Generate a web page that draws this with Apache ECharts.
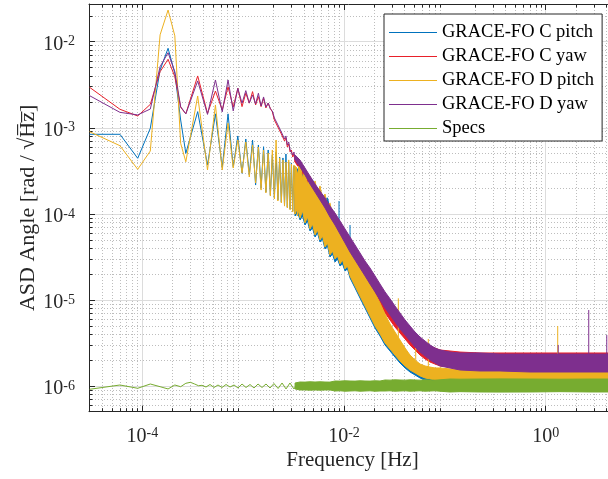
<!DOCTYPE html>
<html>
<head>
<meta charset="utf-8">
<script src="https://cdn.jsdelivr.net/npm/echarts@6/dist/echarts.min.js"></script>
<style>
html,body{margin:0;padding:0;background:#fff;}
#chart{width:608px;height:479px;}
</style>
</head>
<body>
<div id="chart"></div>
<script>
// ---------------- data ----------------
const seriesNames = ['GRACE-FO C pitch', 'GRACE-FO C yaw', 'GRACE-FO D pitch', 'GRACE-FO D yaw', 'Specs'];
const seriesColors = ['#0072BD', '#E8202A', '#EDB120', '#7E2F8E', '#77AC30'];

// tick values
const xMajor = [1e-4, 1e-2, 1];
const xMinor = [4e-5, 5e-5, 6e-5, 7e-5, 8e-5, 9e-5,
  2e-4, 3e-4, 4e-4, 5e-4, 6e-4, 7e-4, 8e-4, 9e-4,
  2e-3, 3e-3, 4e-3, 5e-3, 6e-3, 7e-3, 8e-3, 9e-3,
  2e-2, 3e-2, 4e-2, 5e-2, 6e-2, 7e-2, 8e-2, 9e-2,
  0.2, 0.3, 0.4, 0.5, 0.6, 0.7, 0.8, 0.9, 2, 3, 4];
const yMajor = [1e-6, 1e-5, 1e-4, 1e-3, 1e-2];
const yMinor = [6e-7, 7e-7, 8e-7, 9e-7,
  2e-6, 3e-6, 4e-6, 5e-6, 6e-6, 7e-6, 8e-6, 9e-6,
  2e-5, 3e-5, 4e-5, 5e-5, 6e-5, 7e-5, 8e-5, 9e-5,
  2e-4, 3e-4, 4e-4, 5e-4, 6e-4, 7e-4, 8e-4, 9e-4,
  2e-3, 3e-3, 4e-3, 5e-3, 6e-3, 7e-3, 8e-3, 9e-3, 2e-2];

// low-frequency part (Hz)
const fLow = [3.0e-5, 6.0e-5, 9.0e-5, 1.2e-4, 1.5e-4, 1.8e-4, 2.1e-4, 2.4e-4, 2.7e-4,
  3.54e-4, 4.43e-4, 5.31e-4, 6.2e-4, 7.08e-4, 7.97e-4, 8.85e-4, 9.74e-4, 1.062e-3, 1.15e-3,
  1.239e-3, 1.328e-3, 1.416e-3, 1.505e-3, 1.593e-3, 1.68e-3, 1.77e-3, 1.86e-3, 1.947e-3, 2.04e-3,
  2.12e-3, 2.21e-3, 2.30e-3, 2.39e-3, 2.48e-3, 2.57e-3, 2.655e-3, 2.74e-3, 2.83e-3, 2.92e-3,
  3.01e-3, 3.10e-3, 3.19e-3, 3.27e-3, 3.36e-3, 3.45e-3, 3.54e-3];
const cPitchLow = [8.4e-4, 8.4e-4, 4.42e-4, 9.86e-4, 4.69e-3, 8.38e-3, 4.3e-3, 1.23e-3, 5.05e-4,
  1.54e-3, 3.69e-4, 1.45e-3, 3.45e-4, 1.45e-3, 3.53e-4, 8.03e-4, 2.96e-4, 7.41e-4, 2.83e-4,
  7.21e-4, 2.16e-4, 6.31e-4, 2.0e-4, 6.03e-4, 1.79e-4, 5.52e-4, 1.66e-4, 4.83e-4, 1.53e-4,
  5.23e-4, 1.45e-4, 4.57e-4, 1.37e-4, 4.46e-4, 1.27e-4, 4.96e-4, 1.2e-4, 4.0e-4, 1.14e-4,
  3.9e-4, 1.08e-4, 3.6e-4, 9.96e-5, 3.41e-4, 9.44e-5, 3.41e-4];
const cYawLow = [2.95e-3, 1.64e-3, 1.37e-3, 1.87e-3, 4.48e-3, 6.25e-3, 3.92e-3, 1.73e-3, 1.45e-3,
  4.0e-3, 1.47e-3, 2.67e-3, 1.61e-3, 2.98e-3, 1.74e-3, 2.87e-3, 1.76e-3, 2.52e-3, 1.93e-3,
  2.63e-3, 1.84e-3, 2.30e-3, 1.76e-3, 2.2e-3, 1.70e-3, 1.93e-3, 1.68e-3, 1.53e-3, 1.23e-3,
  1.27e-3, 1.02e-3, 1.05e-3, 8.47e-4, 8.93e-4, 7.02e-4, 7.61e-4, 5.98e-4, 6.48e-4, 5.23e-4,
  5.52e-4, 4.57e-4, 4.96e-4, 4.0e-4, 4.34e-4, 3.6e-4, 3.9e-4];
const dPitchLow = [9.0e-4, 6.19e-4, 3.29e-4, 5.37e-4, 1.2e-2, 2.33e-2, 1.17e-2, 6.6e-4, 4.03e-4,
  2.34e-3, 3.23e-4, 1.84e-3, 3.23e-4, 1.13e-3, 3.41e-4, 7.21e-4, 2.98e-4, 6.84e-4, 2.68e-4,
  6.31e-4, 2.28e-4, 5.98e-4, 1.89e-4, 5.52e-4, 1.75e-4, 5.09e-4, 1.61e-4, 5.52e-4, 1.49e-4,
  7.21e-4, 1.41e-4, 4.46e-4, 1.34e-4, 4.23e-4, 1.23e-4, 4.0e-4, 1.17e-4, 4.23e-4, 1.11e-4,
  3.8e-4, 1.05e-4, 3.69e-4, 9.96e-5, 3.5e-4, 9.44e-5, 3.6e-4];
const dYawLow = [2.36e-3, 1.51e-3, 1.41e-3, 1.65e-3, 5.13e-3, 7.45e-3, 4.48e-3, 1.76e-3, 1.45e-3,
  3.5e-3, 1.43e-3, 3.59e-3, 1.53e-3, 3.59e-3, 1.57e-3, 2.87e-3, 1.93e-3, 2.7e-3, 1.94e-3,
  2.4e-3, 1.89e-3, 2.52e-3, 1.79e-3, 2.28e-3, 1.74e-3, 1.94e-3, 1.65e-3, 1.57e-3, 1.3e-3,
  1.33e-3, 1.08e-3, 1.11e-3, 8.93e-4, 9.42e-4, 7.41e-4, 8.03e-4, 6.31e-4, 6.84e-4, 5.52e-4,
  5.82e-4, 4.83e-4, 5.23e-4, 4.22e-4, 4.57e-4, 3.8e-4, 4.11e-4];
const fSpecLow = [3.0e-5, 6.0e-5, 9.0e-5, 1.2e-4, 1.5e-4, 1.8e-4, 2.1e-4, 2.4e-4, 2.7e-4, 3.0e-4, 3.3e-4, 3.6e-4, 3.9e-4,
  4.28e-4, 4.69e-4, 5.14e-4, 5.63e-4, 6.17e-4, 6.76e-4, 7.41e-4, 8.12e-4, 8.89e-4, 9.74e-4, 1.067e-3, 1.169e-3,
  1.281e-3, 1.404e-3, 1.538e-3, 1.685e-3, 1.846e-3, 2.02e-3, 2.22e-3, 2.43e-3, 2.66e-3, 2.91e-3, 3.19e-3, 3.50e-3];
const specLow = [9.16e-7, 1.027e-6, 9.41e-7, 1.055e-6, 9.82e-7, 9.24e-7, 1.027e-6, 9.82e-7, 1.075e-6, 1.104e-6, 1.055e-6, 1.008e-6, 1.018e-6,
  9.74e-7, 1.041e-6, 9.61e-7, 1.027e-6, 9.61e-7, 1.041e-6, 9.74e-7, 1.027e-6, 9.48e-7, 1.055e-6, 9.61e-7, 1.041e-6,
  9.48e-7, 1.055e-6, 9.61e-7, 1.055e-6, 9.48e-7, 1.069e-6, 9.36e-7, 1.084e-6, 9.24e-7, 1.084e-6, 9.24e-7, 1.084e-6];

// dense (noise band) part: upper / lower envelopes
const fBand = [3.27e-3, 3.66e-3, 4.10e-3, 4.60e-3, 5.16e-3, 5.78e-3, 6.48e-3, 7.26e-3, 8.14e-3, 9.13e-3,
  1.023e-2, 1.147e-2, 1.285e-2, 1.441e-2, 1.615e-2, 1.81e-2, 2.03e-2, 2.275e-2, 2.55e-2, 2.86e-2,
  3.20e-2, 3.59e-2, 4.03e-2, 4.51e-2, 5.06e-2, 5.67e-2, 6.36e-2, 7.12e-2, 7.99e-2, 8.95e-2,
  0.1125, 0.1413, 0.223, 0.352, 0.699, 1.386, 2.75, 5.0];
const fPitchBand = [3.27e-3, 3.462e-3, 3.666e-3, 3.88e-3, 4.10e-3, 4.345e-3, 4.60e-3, 4.87e-3, 5.16e-3, 5.46e-3,
  5.78e-3, 6.12e-3, 6.48e-3, 6.86e-3, 7.26e-3, 7.69e-3, 8.14e-3, 8.62e-3, 9.13e-3, 9.66e-3,
  1.023e-2, 1.083e-2, 1.147e-2,
  1.285e-2, 1.441e-2, 1.615e-2, 1.81e-2, 2.03e-2, 2.275e-2, 2.55e-2, 2.86e-2,
  3.20e-2, 3.59e-2, 4.03e-2, 4.51e-2, 5.06e-2, 5.67e-2, 6.36e-2, 7.12e-2, 7.99e-2, 8.95e-2,
  0.1125, 0.1413, 0.223, 0.352, 0.699, 1.386, 2.75, 5.0];
const cPitchHi = [3.41e-4, 3.32e-4, 3.23e-4, 3.06e-4, 2.83e-4, 2.61e-4, 2.41e-4, 2.47e-4, 2.05e-4, 1.94e-4,
  1.79e-4, 1.66e-4, 1.49e-4, 1.53e-4, 1.14e-4, 9.96e-5, 8.71e-5, 7.62e-5, 6.85e-5, 6.16e-5,
  5.53e-5, 4.97e-5, 4.47e-5,
  3.42e-5, 2.62e-5, 1.95e-5, 1.41e-5, 1.08e-5, 8.28e-6, 6.17e-6, 4.72e-6,
  3.81e-6, 3.08e-6, 2.55e-6, 2.12e-6, 1.85e-6, 1.71e-6, 1.62e-6, 1.58e-6, 1.535e-6, 1.535e-6,
  1.535e-6, 1.535e-6, 1.535e-6, 1.535e-6, 1.535e-6, 1.535e-6, 1.535e-6, 1.535e-6];
const cPitchLo = [9.44e-5, 1.05e-4, 8.48e-5, 9.44e-5, 7.42e-5, 8.26e-5, 6.32e-5, 6.85e-5, 5.38e-5, 5.99e-5,
  4.71e-5, 5.10e-5, 3.91e-5, 4.23e-5, 3.15e-5, 3.42e-5, 2.76e-5, 2.99e-5, 2.48e-5, 2.62e-5,
  2.17e-5, 2.29e-5, 1.80e-5,
  1.38e-5, 1.05e-5, 8.06e-6, 6.17e-6, 4.72e-6, 3.81e-6, 3.00e-6, 2.55e-6,
  2.17e-6, 1.85e-6, 1.62e-6, 1.455e-6, 1.343e-6, 1.24e-6, 1.174e-6, 1.143e-6, 1.113e-6, 1.113e-6,
  1.113e-6, 1.113e-6, 1.113e-6, 1.113e-6, 1.113e-6, 1.113e-6, 1.113e-6, 1.113e-6];
const dPitchHi = [3.60e-4, 2.90e-4, 3.90e-4, 2.61e-4, 3.15e-4, 2.22e-4, 2.75e-4, 2.0e-4, 2.41e-4, 1.75e-4,
  2.11e-4, 1.49e-4, 1.70e-4, 1.20e-4, 1.34e-4, 9.44e-5, 1.02e-4, 7.42e-5, 8.04e-5, 5.99e-5,
  6.32e-5, 4.97e-5, 4.97e-5,
  3.80e-5, 2.91e-5, 2.17e-5, 1.57e-5, 1.20e-5, 9.21e-6, 6.86e-6, 5.25e-6,
  4.24e-6, 3.42e-6, 2.76e-6, 2.29e-6, 2.01e-6, 1.80e-6, 1.71e-6, 1.66e-6, 1.62e-6, 1.62e-6,
  1.58e-6, 1.58e-6, 1.535e-6, 1.535e-6, 1.535e-6, 1.535e-6, 1.535e-6, 1.535e-6];
const dPitchLo = [9.96e-5, 1.17e-4, 8.95e-5, 1.08e-4, 7.83e-5, 9.19e-5, 6.67e-5, 7.62e-5, 5.68e-5, 6.49e-5,
  4.97e-5, 5.53e-5, 4.12e-5, 4.59e-5, 3.33e-5, 3.70e-5, 2.99e-5, 3.24e-5, 2.62e-5, 2.91e-5,
  2.29e-5, 2.48e-5, 1.90e-5,
  1.45e-5, 1.11e-5, 8.50e-6, 6.51e-6, 4.98e-6, 4.02e-6, 3.16e-6, 2.69e-6,
  2.29e-6, 1.95e-6, 1.71e-6, 1.535e-6, 1.42e-6, 1.31e-6, 1.24e-6, 1.21e-6, 1.17e-6, 1.17e-6,
  1.14e-6, 1.14e-6, 1.14e-6, 1.11e-6, 1.11e-6, 1.11e-6, 1.11e-6, 1.11e-6];
const cYawHi = [4.58e-4, 3.90e-4, 3.15e-4, 2.54e-4, 2.05e-4, 1.70e-4, 1.41e-4, 1.14e-4, 9.19e-5, 7.42e-5,
  5.99e-5, 4.84e-5, 3.91e-5, 3.15e-5, 2.55e-5, 2.11e-5, 1.70e-5, 1.38e-5, 1.11e-5, 9.21e-6,
  7.64e-6, 6.33e-6, 5.40e-6, 4.60e-6, 4.02e-6, 3.52e-6, 3.16e-6, 2.92e-6, 2.76e-6, 2.62e-6,
  2.55e-6, 2.48e-6, 2.42e-6, 2.42e-6, 2.42e-6, 2.42e-6, 2.42e-6, 2.42e-6];
const cYawLo = [4.0e-4, 3.32e-4, 2.61e-4, 2.05e-4, 1.66e-4, 1.34e-4, 1.05e-4, 8.26e-5, 6.49e-5, 5.10e-5,
  4.01e-5, 3.15e-5, 2.55e-5, 2.06e-5, 1.66e-5, 1.34e-5, 1.08e-5, 8.73e-6, 7.05e-6, 5.85e-6,
  4.85e-6, 4.13e-6, 3.52e-6, 3.00e-6, 2.62e-6, 2.29e-6, 2.06e-6, 1.90e-6, 1.80e-6, 1.71e-6,
  1.66e-6, 1.62e-6, 1.58e-6, 1.58e-6, 1.58e-6, 1.58e-6, 1.58e-6, 1.58e-6];
const dYawHi = [4.83e-4, 4.22e-4, 3.41e-4, 2.75e-4, 2.22e-4, 1.84e-4, 1.53e-4, 1.23e-4, 1.02e-4, 8.26e-5,
  6.67e-5, 5.38e-5, 4.35e-5, 3.51e-5, 2.83e-5, 2.35e-5, 1.90e-5, 1.53e-5, 1.24e-5, 1.03e-5,
  8.50e-6, 7.05e-6, 5.85e-6, 4.98e-6, 4.24e-6, 3.71e-6, 3.33e-6, 3.00e-6, 2.76e-6, 2.62e-6,
  2.48e-6, 2.42e-6, 2.42e-6, 2.35e-6, 2.35e-6, 2.35e-6, 2.35e-6, 2.35e-6];
const dYawLo = [4.22e-4, 3.50e-4, 2.83e-4, 2.22e-4, 1.79e-4, 1.45e-4, 1.17e-4, 9.19e-5, 7.42e-5, 5.83e-5,
  4.59e-5, 3.60e-5, 2.91e-5, 2.35e-5, 1.90e-5, 1.53e-5, 1.24e-5, 9.98e-6, 8.06e-6, 6.68e-6,
  5.54e-6, 4.60e-6, 3.91e-6, 3.33e-6, 2.84e-6, 2.48e-6, 2.23e-6, 2.01e-6, 1.85e-6, 1.71e-6,
  1.62e-6, 1.535e-6, 1.495e-6, 1.495e-6, 1.455e-6, 1.455e-6, 1.455e-6, 1.455e-6];
const specHi = [1.084e-6, 1.113e-6, 1.11e-6, 1.12e-6, 1.113e-6, 1.12e-6, 1.113e-6, 1.11e-6, 1.143e-6, 1.14e-6,
  1.15e-6, 1.143e-6, 1.14e-6, 1.15e-6, 1.143e-6, 1.14e-6, 1.15e-6, 1.143e-6, 1.174e-6, 1.17e-6,
  1.18e-6, 1.174e-6, 1.17e-6, 1.18e-6, 1.174e-6, 1.17e-6, 1.18e-6, 1.174e-6, 1.17e-6, 1.18e-6,
  1.206e-6, 1.2e-6, 1.206e-6, 1.21e-6, 1.206e-6, 1.2e-6, 1.206e-6, 1.206e-6];
const specLo = [9.24e-7, 8.99e-7, 9.0e-7, 8.95e-7, 8.99e-7, 8.95e-7, 8.99e-7, 9.0e-7, 8.75e-7, 8.8e-7,
  8.7e-7, 8.75e-7, 8.8e-7, 8.7e-7, 8.75e-7, 8.8e-7, 8.7e-7, 8.75e-7, 8.75e-7, 8.8e-7,
  8.7e-7, 8.75e-7, 8.8e-7, 8.7e-7, 8.75e-7, 8.8e-7, 8.7e-7, 8.75e-7, 8.8e-7, 8.7e-7,
  8.52e-7, 8.6e-7, 8.52e-7, 8.5e-7, 8.52e-7, 8.6e-7, 8.52e-7, 8.52e-7];

// isolated spectral lines (frequency, base, top)
const cPitchSpikeF = [8.92e-3, 1.147e-2];
const cPitchSpikeBase = [6.85e-5, 4.47e-5];
const cPitchSpikeTop = [1.41e-4, 7.42e-5];
const dPitchSpikeF = [3.455e-2, 5.14e-2, 6.85e-2, 1.315];
const dPitchSpikeBase = [3.71e-6, 2.01e-6, 1.66e-6, 1.535e-6];
const dPitchSpikeTop = [1.045e-5, 2.86e-6, 3.52e-6, 4.98e-6];
const dYawSpikeF = [1.33, 2.67, 4.03];
const dYawSpikeBase = [2.35e-6, 2.35e-6, 2.35e-6];
const dYawSpikeTop = [3.0e-6, 7.64e-6, 3.91e-6];

// ---------------- chart ----------------
const FONT = '"Liberation Serif", "Times New Roman", serif';
const AX = '#262626';
const X_MIN = 2.96e-5, X_MAX = 4.145;
const Y_MIN = 5.03e-7, Y_MAX = 2.74e-2;

function supLabel(v) {
  const e = Math.round(Math.log10(v));
  return '{b|10}{s|' + (e < 0 ? '-' : '') + Math.abs(e) + '}';
}
const rich = {
  b: {fontSize: 20, fontFamily: FONT, color: AX, lineHeight: 20},
  s: {fontSize: 14, fontFamily: FONT, color: AX, lineHeight: 14, verticalAlign: 'top'}
};

function pairs(fs, vs) { return fs.map((f, i) => [f, vs[i]]); }

function lineSeries(name, fs, vs, color, z) {
  return {
    type: 'line', name: name, data: pairs(fs, vs), xAxisIndex: 0, yAxisIndex: 0,
    showSymbol: false, symbol: 'none', z: z, silent: true,
    lineStyle: {color: color, width: 1}, itemStyle: {color: color}
  };
}

function bandSeries(id, fs, hi, lo, color, z) {
  return {
    type: 'custom', name: id, xAxisIndex: 0, yAxisIndex: 0, z: z, silent: true,
    data: fs.map((f, i) => [f, lo[i], hi[i]]),
    encode: {x: 0, y: [1, 2]},
    renderItem: function (params, api) {
      if (params.dataIndexInside !== 0) return null;
      const n = params.dataInsideLength;
      const top = [], bot = [];
      for (let i = 0; i < n; i++) {
        top.push(api.coord([api.value(0, i), api.value(2, i)]));
        bot.push(api.coord([api.value(0, i), api.value(1, i)]));
      }
      return {
        type: 'polygon', silent: true,
        shape: {points: top.concat(bot.reverse())},
        style: {fill: color, stroke: color, lineWidth: 1}
      };
    }
  };
}

function spikeSeries(id, fs, base, top, color, z) {
  return fs.map((f, i) => ({
    type: 'line', name: id + i, xAxisIndex: 0, yAxisIndex: 0, z: z, silent: true,
    showSymbol: false, symbol: 'none',
    data: [[f, base[i]], [f, top[i]]],
    lineStyle: {color: color, width: 1}
  }));
}

const series = [
  lineSeries(seriesNames[0], fLow, cPitchLow, seriesColors[0], 2),
  lineSeries(seriesNames[1], fLow, cYawLow, seriesColors[1], 3),
  lineSeries(seriesNames[2], fLow, dPitchLow, seriesColors[2], 4),
  lineSeries(seriesNames[3], fLow, dYawLow, seriesColors[3], 5),
  lineSeries(seriesNames[4], fSpecLow, specLow, seriesColors[4], 6),
  bandSeries('band-c-pitch', fPitchBand, cPitchHi, cPitchLo, seriesColors[0], 2),
  bandSeries('band-c-yaw', fBand, cYawHi, cYawLo, seriesColors[1], 3),
  bandSeries('band-d-pitch', fPitchBand, dPitchHi, dPitchLo, seriesColors[2], 4),
  bandSeries('band-d-yaw', fBand, dYawHi, dYawLo, seriesColors[3], 5),
  bandSeries('band-specs', fBand, specHi, specLo, seriesColors[4], 6)
].concat(
  spikeSeries('spk-c-pitch', cPitchSpikeF, cPitchSpikeBase, cPitchSpikeTop, seriesColors[0], 2),
  spikeSeries('spk-d-pitch', dPitchSpikeF, dPitchSpikeBase, dPitchSpikeTop, seriesColors[2], 4),
  spikeSeries('spk-d-yaw', dYawSpikeF, dYawSpikeBase, dYawSpikeTop, seriesColors[3], 5)
);

function logAxis(extra, min, max) {
  return Object.assign({
    type: 'log', min: min, max: max, logBase: 10,
    axisLine: {show: false, onZero: false, lineStyle: {color: AX, width: 1}},
    axisTick: {show: true, inside: true, length: 6, lineStyle: {color: AX, width: 1}},
    axisLabel: {show: false},
    splitLine: {show: false},
    minorTick: {show: false}, minorSplitLine: {show: false}
  }, extra);
}

const minorGrid = {show: true, lineStyle: {color: '#bdbdbd', width: 1, type: [1, 2]}};
const majorGrid = {show: true, lineStyle: {color: '#dcdcdc', width: 1}};

const option = {
  animation: false,
  backgroundColor: '#ffffff',
  grid: {left: 89, top: 4, right: 0, bottom: 67.3, containLabel: false},
  legend: {
    data: seriesNames.map(n => ({name: n, icon: 'rect'})),
    orient: 'vertical', left: 384, top: 14,
    padding: [9, 8, 3, 5],
    itemWidth: 48, itemHeight: 1.2, itemGap: 5,
    backgroundColor: '#ffffff', borderColor: AX, borderWidth: 1,
    textStyle: {fontFamily: FONT, fontSize: 18.5, color: '#000'},
    selectedMode: false
  },
  xAxis: [
    logAxis({
      position: 'bottom',
      axisLine: {show: true, onZero: false, lineStyle: {color: AX, width: 1}},
      axisTick: {show: true, inside: true, length: 6, customValues: xMajor, lineStyle: {color: AX, width: 1}},
      axisLabel: {show: true, customValues: xMajor, formatter: supLabel, rich: rich, margin: 15},
      splitLine: majorGrid,
      name: 'Frequency [Hz]', nameLocation: 'middle', nameGap: 38, nameMoveOverlap: false,
      nameTextStyle: {fontFamily: FONT, fontSize: 21, color: AX, padding: [0, 0, 0, 8]}
    }, X_MIN, X_MAX),
    logAxis({
      position: 'bottom',
      axisTick: {show: true, inside: true, length: 3.5, customValues: xMinor, lineStyle: {color: AX, width: 1}},
      splitLine: minorGrid
    }, X_MIN, X_MAX),
    logAxis({
      position: 'top',
      axisLine: {show: true, onZero: false, lineStyle: {color: AX, width: 1}},
      axisTick: {show: true, inside: true, length: 6, customValues: xMajor, lineStyle: {color: AX, width: 1}}
    }, X_MIN, X_MAX),
    logAxis({
      position: 'top',
      axisTick: {show: true, inside: true, length: 3.5, customValues: xMinor, lineStyle: {color: AX, width: 1}}
    }, X_MIN, X_MAX)
  ],
  yAxis: [
    logAxis({
      position: 'left',
      axisLine: {show: true, onZero: false, lineStyle: {color: AX, width: 1}},
      axisTick: {show: true, inside: true, length: 6, customValues: yMajor, lineStyle: {color: AX, width: 1}},
      axisLabel: {show: true, customValues: yMajor, formatter: supLabel, rich: rich, margin: 14, padding: [6, 0, 0, 0]},
      splitLine: majorGrid,
      name: 'ASD Angle [rad / \u221AH\u0305z\u0305]', nameLocation: 'middle', nameGap: 50, nameMoveOverlap: false,
      nameTextStyle: {fontFamily: FONT, fontSize: 22, color: AX}
    }, Y_MIN, Y_MAX),
    logAxis({
      position: 'left',
      axisTick: {show: true, inside: true, length: 3.5, customValues: yMinor, lineStyle: {color: AX, width: 1}},
      splitLine: minorGrid
    }, Y_MIN, Y_MAX)
  ],
  series: series
};

const chart = echarts.init(document.getElementById('chart'), null, {renderer: 'canvas', width: 608, height: 479});
chart.setOption(option);
</script>
</body>
</html>
